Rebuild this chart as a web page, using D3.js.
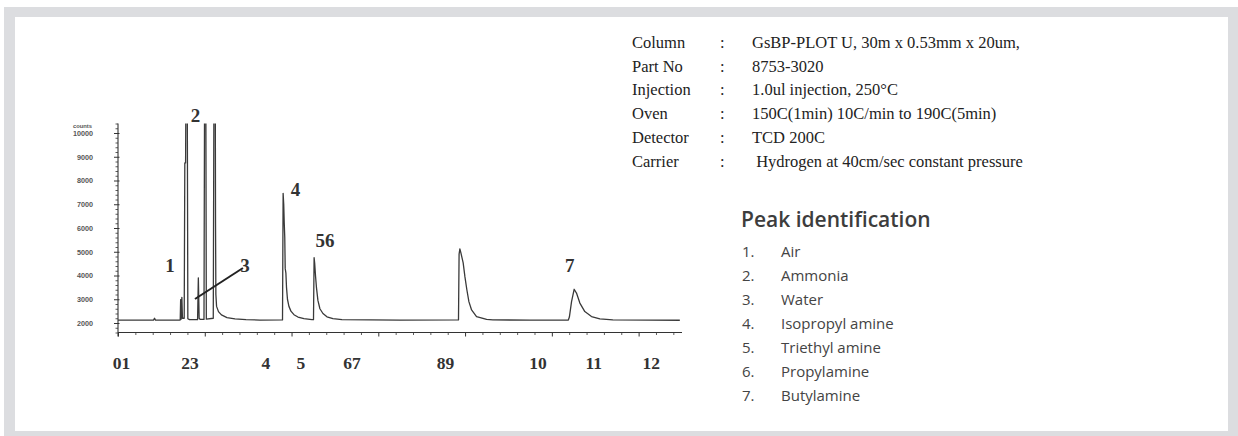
<!DOCTYPE html>
<html>
<head>
<meta charset="utf-8">
<script src="https://cdn.jsdelivr.net/npm/d3@7/dist/d3.min.js"></script>
<style>
  html, body { margin: 0; padding: 0; background: #ffffff; }
  svg { display: block; }
</style>
</head>
<body>
<svg id="chart" width="1238" height="436"></svg>
<script>
// Chromatogram trace: retention time (min) and detector response (counts)
const retentionTime = [
  0.000, 0.409, 0.421, 0.432, 0.709, 0.717, 0.722, 0.728, 0.736, 0.743,
  0.763, 0.770, 0.779, 0.783, 0.798, 0.805, 0.824, 0.917, 0.926, 0.935,
  0.947, 0.991, 0.998, 1.012, 1.018, 1.098, 1.106, 1.121, 1.124, 1.128,
  1.136, 1.158, 1.192, 1.256, 1.348, 1.475, 1.636,
  1.896, 1.903, 1.910, 1.916, 1.922, 1.927, 1.935, 1.942, 1.953, 1.970,
  1.993, 2.028, 2.074, 2.143, 2.235,
  2.253, 2.260, 2.267, 2.276, 2.287, 2.304, 2.327, 2.362, 2.408, 2.477, 2.581,
  3.249, 3.924, 3.931, 3.940, 3.952, 3.978, 3.998, 4.021, 4.044, 4.075,
  4.132, 4.248, 4.320, 4.747,
  5.190, 5.202, 5.227, 5.257, 5.284, 5.323, 5.380, 5.457, 5.553, 5.703,
  6.129, 6.475
];
const detectorCounts = [
  2120, 2120, 2200, 2120, 2120, 2130, 2980, 2160, 3080, 2200,
  2200, 8740, 8740, 12000, 12000, 2180, 2140, 2140, 3900, 2200,
  2150, 2150, 12000, 12000, 2160, 2200, 12000, 12000, 6200, 3200,
  2700, 2480, 2340, 2230, 2170, 2140, 2125,
  2130, 7460, 7000, 6200, 5600, 4300, 4100, 3500, 3000, 2700,
  2500, 2350, 2250, 2180, 2140,
  2140, 4750, 4500, 4000, 3500, 2950, 2600, 2400, 2260, 2180, 2140,
  2125, 2130, 4900, 5120, 4950, 4530, 3950, 3390, 2900, 2550,
  2270, 2150, 2130, 2120,
  2125, 2250, 2900, 3420, 3260, 2840, 2480, 2270, 2170, 2130,
  2120, 2115
];

// Axis ticks
const countTicks = [2000, 3000, 4000, 5000, 6000, 7000, 8000, 9000, 10000];
const timeAxisLabels = ["01", "23", "4", "5", "67", "89", "10", "11", "12"];
const timeAxisLabelAt = [0.040, 0.829, 1.705, 2.108, 2.696, 3.773, 4.839, 5.484, 6.146];

// Peak numbers and where they are written (time, counts)
const peakLabels = ["1", "2", "3", "4", "56", "7"];
const peakLabelTime = [0.599, 0.893, 1.463, 2.045, 2.385, 5.207];
const peakLabelCounts = [4147, 10463, 4147, 7347, 5200, 4147];

// Leader line from the water peak to its number
const leaderTime = [0.887, 1.440];
const leaderCounts = [3010, 4316];

// Method conditions
const methodKeys = ["Column", "Part No", "Injection", "Oven", "Detector", "Carrier"];
const methodValues = [
  "GsBP-PLOT U, 30m x 0.53mm x 20um,",
  "8753-3020",
  "1.0ul injection, 250°C",
  "150C(1min) 10C/min to 190C(5min)",
  "TCD 200C",
  " Hydrogen at 40cm/sec constant pressure"
];

// Peak identification
const compoundNames = ["Air", "Ammonia", "Water", "Isopropyl amine", "Triethyl amine", "Propylamine", "Butylamine"];

const svg = d3.select("#chart");
const W = 1238, H = 436;

// Frame
svg.append("rect").attr("x", 4).attr("y", 7).attr("width", W - 4).attr("height", H - 7).attr("fill", "#dcdde0");
svg.append("rect").attr("x", 15).attr("y", 17).attr("width", 1213).attr("height", 414).attr("fill", "#ffffff");

// Scales
const plot = { left: 118, right: 682, top: 123.5, bottom: 332.5 };
const x = d3.scaleLinear().domain([0, 6.5]).range([plot.left, plot.right]);
const y = d3.scaleLinear().domain([1600, 10400]).range([plot.bottom, plot.top]);

const ink = "#333333";

// Clip region for the trace
svg.append("defs").append("clipPath").attr("id", "plotClip")
  .append("rect")
  .attr("x", plot.left - 2).attr("y", plot.top)
  .attr("width", plot.right - plot.left + 4).attr("height", plot.bottom - plot.top);

// Y axis: minor ticks
const minorCounts = d3.range(1600, 10401, 200).filter(v => !countTicks.includes(v));
const yMinor = svg.append("g").attr("transform", `translate(${plot.left},0)`)
  .call(d3.axisLeft(y).tickValues(minorCounts).tickSize(2.5).tickFormat(""));
yMinor.select(".domain").remove();
yMinor.selectAll("line").attr("stroke", ink).attr("stroke-width", 0.8);

// Y axis: major ticks with labels
const yMajor = svg.append("g").attr("transform", `translate(${plot.left},0)`)
  .call(d3.axisLeft(y).tickValues(countTicks).tickSize(4).tickPadding(21).tickFormat(d3.format("d")));
yMajor.select(".domain").remove();
yMajor.selectAll("line").attr("stroke", ink).attr("stroke-width", 1).attr("x2", -4).attr("x1", 1.5);
yMajor.selectAll("text")
  .attr("fill", "#555").attr("font-family", "Liberation Sans, Arial, sans-serif")
  .attr("font-size", 7.2).attr("font-weight", "bold");

svg.append("text")
  .attr("x", plot.left - 26).attr("y", y(10000) - 5)
  .attr("text-anchor", "end")
  .attr("fill", "#555").attr("font-family", "Liberation Sans, Arial, sans-serif")
  .attr("font-size", 5.8).attr("font-weight", "bold")
  .text("counts");

// Y axis line
svg.append("line")
  .attr("x1", plot.left).attr("x2", plot.left)
  .attr("y1", plot.top).attr("y2", plot.bottom + 4)
  .attr("stroke", ink).attr("stroke-width", 1.1);

// X axis: minor and major ticks
const xMinorG = svg.append("g").attr("transform", `translate(0,${plot.bottom})`)
  .call(d3.axisBottom(x).tickValues(d3.range(0, 6.5, 0.2).filter(v => Math.abs(v - Math.round(v)) > 1e-6)).tickSize(2.5).tickFormat(""));
xMinorG.select(".domain").remove();
xMinorG.selectAll("line").attr("stroke", ink).attr("stroke-width", 0.8);

const xMajorG = svg.append("g").attr("transform", `translate(0,${plot.bottom})`)
  .call(d3.axisBottom(x).tickValues(d3.range(0, 7, 1)).tickSize(4).tickFormat(""));
xMajorG.select(".domain").remove();
xMajorG.selectAll("line").attr("stroke", ink).attr("stroke-width", 1);

svg.append("line")
  .attr("x1", plot.left).attr("x2", plot.right)
  .attr("y1", plot.bottom).attr("y2", plot.bottom)
  .attr("stroke", ink).attr("stroke-width", 1.1);

// X axis labels
svg.append("g").selectAll("text")
  .data(timeAxisLabels)
  .join("text")
  .attr("x", (d, i) => x(timeAxisLabelAt[i]))
  .attr("y", 369)
  .attr("text-anchor", "middle")
  .attr("fill", ink)
  .attr("font-family", "Liberation Serif, Times New Roman, serif")
  .attr("font-size", 17.5)
  .attr("font-weight", "bold")
  .text(d => d);

// Trace
const traceData = retentionTime.map((t, i) => [t, detectorCounts[i]]);
svg.append("path")
  .datum(traceData)
  .attr("clip-path", "url(#plotClip)")
  .attr("fill", "none")
  .attr("stroke", "#3a3a3a")
  .attr("stroke-width", 1.3)
  .attr("stroke-linejoin", "round")
  .attr("d", d3.line().x(d => x(d[0])).y(d => y(d[1])));

// Leader line
svg.append("line")
  .attr("x1", x(leaderTime[0])).attr("y1", y(leaderCounts[0]))
  .attr("x2", x(leaderTime[1])).attr("y2", y(leaderCounts[1]))
  .attr("stroke", "#222").attr("stroke-width", 2);

// Peak numbers
svg.append("g").selectAll("text")
  .data(peakLabels)
  .join("text")
  .attr("x", (d, i) => x(peakLabelTime[i]))
  .attr("y", (d, i) => y(peakLabelCounts[i]))
  .attr("text-anchor", "middle")
  .attr("fill", ink)
  .attr("font-family", "Liberation Serif, Times New Roman, serif")
  .attr("font-size", 19)
  .attr("font-weight", "bold")
  .text(d => d);

// Method conditions block
const serif = "Liberation Serif, Times New Roman, serif";
const methodG = svg.append("g").attr("fill", "#222").attr("font-family", serif).attr("font-size", 16.5);
methodKeys.forEach((k, i) => {
  const yy = 48 + i * 23.7;
  methodG.append("text").attr("x", 632).attr("y", yy).text(k);
  methodG.append("text").attr("x", 720).attr("y", yy).text(":");
  methodG.append("text").attr("x", 752).attr("y", yy).attr("xml:space", "preserve").style("white-space", "pre").text(methodValues[i]);
});

// Peak identification list
const sans = "Open Sans, Lato, sans-serif";
svg.append("text")
  .attr("x", 741).attr("y", 227)
  .attr("fill", "#3d3d3d").attr("font-family", sans)
  .attr("font-size", 21).attr("font-weight", 600)
  .text("Peak identification");

const listG = svg.append("g").attr("fill", "#444").attr("font-family", sans).attr("font-size", 15);
compoundNames.forEach((n, i) => {
  const yy = 257 + i * 24;
  listG.append("text").attr("x", 742).attr("y", yy).text((i + 1) + ".");
  listG.append("text").attr("x", 781).attr("y", yy).text(n);
});
</script>
</body>
</html>
